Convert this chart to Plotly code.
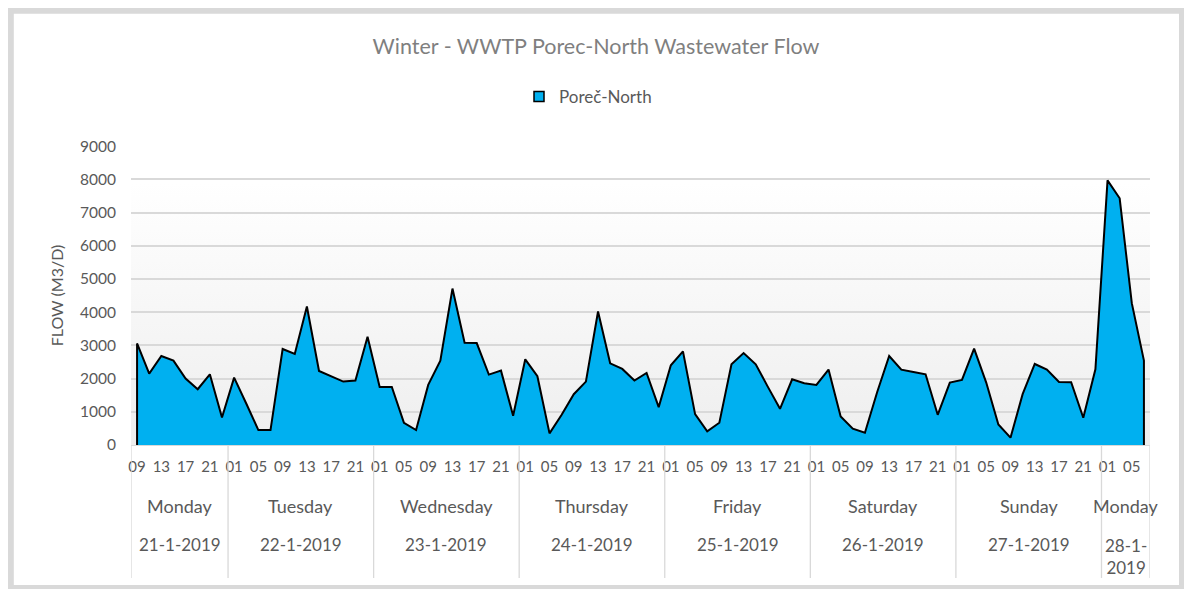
import base64
import plotly.graph_objects as go

# ---------------- data ----------------
hours = (["09", "11", "13", "15", "17", "19", "21", "23"]
         + ["01", "03", "05", "07", "09", "11", "13", "15", "17", "19", "21", "23"] * 6
         + ["01", "03", "05", "07"])

flow = [3060, 2150, 2680, 2540, 2000, 1680, 2130, 830,
        2030, 1250, 450, 450, 2890, 2740, 4170, 2230, 2060, 1910, 1940, 3260,
        1750, 1750, 670, 450, 1810, 2540, 4710, 3080, 3070, 2120, 2240, 880,
        2580, 2070, 350, 910, 1530, 1910, 4020, 2460, 2290, 1940, 2170, 1140,
        2400, 2820, 930, 410, 670, 2430, 2770, 2430, 1750, 1090, 1980, 1860,
        1810, 2270, 860, 490, 370, 1580, 2680, 2270, 2200, 2130, 910, 1880,
        1960, 2900, 1880, 620, 220, 1530, 2440, 2270, 1900, 1890, 820, 2280,
        7970, 7430, 4270, 2540]

day_names = ["Monday", "Tuesday", "Wednesday", "Thursday", "Friday",
             "Saturday", "Sunday", "Monday"]
day_dates = ["21-1-2019", "22-1-2019", "23-1-2019", "24-1-2019", "25-1-2019",
             "26-1-2019", "27-1-2019", "28-1-<br>2019"]

series_name = "Poreč-North"
title = "Winter - WWTP Porec-North Wastewater Flow"
y_title = "FLOW (M3/D)"
y_ticks = [0, 1000, 2000, 3000, 4000, 5000, 6000, 7000, 8000, 9000]

# ---------------- derived ----------------
n = len(flow)
idx = list(range(n))
bounds = [-0.5]
for i in range(1, n):
    if int(hours[i]) < int(hours[i - 1]):
        bounds.append(i - 0.5)
bounds.append(n - 0.5)

FONT = "Lato"
GRAY = "#595959"

# page offset (body margin) -> work in page pixel coords
OFF = 8
W, H = 1192 - OFF, 589 - OFF
PL, PR, PT, PB = 131, 1150, 146, 445          # plot area in page px
L, R, T, B = PL - OFF, W - (PR - OFF), PT - OFF, H - (PB - OFF)
pw, ph = W - L - R, H - T - B

def px(x):
    return (x - OFF - L) / pw

def py(y):
    return (H - B - (y - OFF)) / ph

fig = go.Figure()
fig.add_trace(go.Scatter(
    x=[idx[0]] + idx + [idx[-1]],
    y=[0] + flow + [0],
    mode="lines", fill="tozeroy", fillcolor="#00b0f0",
    line=dict(color="black", width=2), showlegend=False, hoverinfo="skip"))
fig.add_trace(go.Scatter(
    x=[None], y=[None], mode="markers", name=series_name,
    marker=dict(symbol="square", size=10, color="#00b0f0",
                line=dict(color="black", width=1.5))))

svg = ('<svg xmlns="http://www.w3.org/2000/svg" width="100" height="100" '
       'preserveAspectRatio="none"><defs><linearGradient id="g" x1="0" y1="0" '
       'x2="0" y2="1"><stop offset="0" stop-color="#ffffff"/>'
       '<stop offset="0.12" stop-color="#ffffff"/>'
       '<stop offset="1" stop-color="#eeeeee"/></linearGradient></defs>'
       '<rect width="100" height="100" fill="url(#g)"/></svg>')
src = "data:image/svg+xml;base64," + base64.b64encode(svg.encode()).decode()

shapes = []
shapes.append(dict(type="rect", xref="paper", yref="paper",
                   x0=px(10.3), x1=px(1182.5), y0=py(588.5), y1=py(10.3),
                   line=dict(color="#d9d9d9", width=7), layer="below"))
for b in bounds:
    shapes.append(dict(type="line", xref="x", yref="paper", x0=b, x1=b,
                       y0=0, y1=py(578), line=dict(color="#d9d9d9", width=1.3)))

annotations = []
for k in range(len(bounds) - 1):
    c = (bounds[k] + bounds[k + 1]) / 2
    annotations.append(dict(x=c, y=py(506), xref="x", yref="paper",
                            text=day_names[k], showarrow=False,
                            xanchor="center", yanchor="middle",
                            font=dict(family=FONT, size=18, color=GRAY)))
    multi = "<br>" in day_dates[k]
    annotations.append(dict(x=c, y=py(544), xref="x", yref="paper",
                            text=day_dates[k], showarrow=False,
                            xanchor="center", yanchor="top" if multi else "middle",
                            yshift=11 if multi else 0,
                            font=dict(family=FONT, size=17, color=GRAY)))

fig.update_layout(
    width=W, height=H,
    margin=dict(l=L, r=R, t=T, b=B),
    paper_bgcolor="white", plot_bgcolor="rgba(0,0,0,0)",
    title=dict(text=title, x=(596 - OFF) / W, xref="container", xanchor="center",
               y=1 - (46 - OFF) / H, yref="container", yanchor="middle",
               font=dict(family=FONT, size=21.5, color="#7f7f7f")),
    legend=dict(orientation="h", x=px(519), xanchor="left", y=py(97),
                yanchor="middle", itemwidth=30,
                font=dict(family=FONT, size=17, color=GRAY)),
    images=[dict(source=src, xref="paper", yref="paper", x=0, y=1,
                 sizex=1, sizey=1, sizing="stretch", layer="below")],
    shapes=shapes, annotations=annotations,
    xaxis=dict(range=[-0.5, n - 0.5], tickmode="array",
               tickvals=idx[::2], ticktext=hours[::2], tickangle=0,
               showgrid=False, zeroline=False, showline=True,
               linecolor="#d9d9d9", linewidth=1.3, ticks="",
               ticklabelstandoff=8,
               tickfont=dict(family=FONT, size=15, color=GRAY)),
    yaxis=dict(range=[0, 9004], tickvals=y_ticks, showgrid=True,
               gridcolor="#d9d9d9", gridwidth=1.5, zeroline=False,
               showline=False, ticks="", ticklabelstandoff=14,
               tickfont=dict(family=FONT, size=15.5, color=GRAY),
               title=dict(text=y_title, standoff=12,
                          font=dict(family=FONT, size=16, color=GRAY))),
)

fig.write_html("out.html")
